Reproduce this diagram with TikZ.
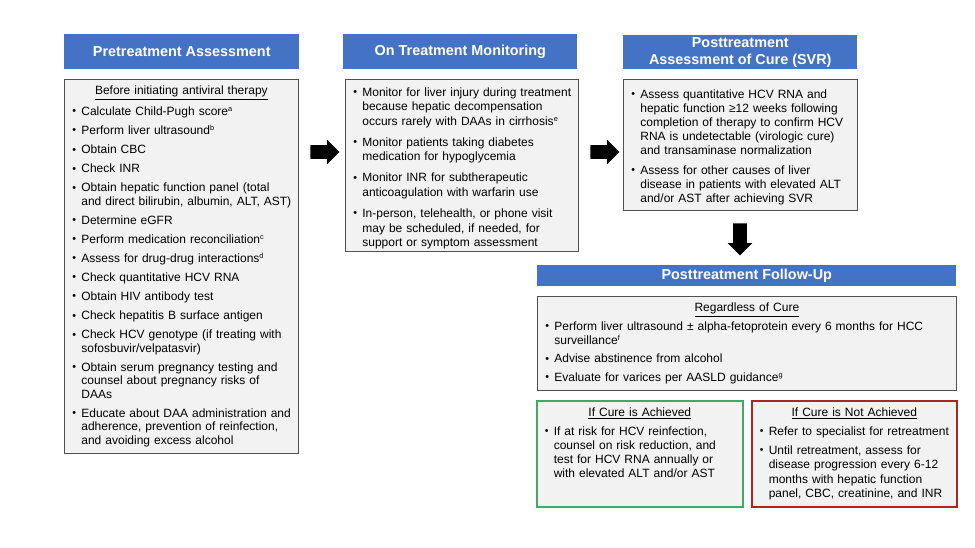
\documentclass[tikz,border=0pt]{standalone}
\usepackage{fontspec}
\setmainfont{Liberation Sans}
\usetikzlibrary{shapes.arrows}
\tikzset{head/.style = {fill=hblue, text=white, anchor=north west, inner sep=0,
                        align=center, font=\fontsize{10.8}{13}\selectfont\bfseries}}
\tikzset{panel/.style = {draw=bline, line width=0.6pt, fill=bfill, anchor=north west,
                         inner xsep=4.5pt, inner ysep=0, align=left,
                         execute at begin node={\def\bgap{#1}}}}
\tikzset{blockarr/.style = {single arrow, fill=black, inner sep=0, text height=9.75pt,
                            text depth=0pt, single arrow head extend=4.125pt}}
\definecolor{hblue}{RGB}{68,114,196}
\definecolor{bfill}{RGB}{242,242,242}
\definecolor{bline}{RGB}{80,80,80}
\definecolor{cgreen}{RGB}{64,170,100}
\definecolor{cred}{RGB}{178,36,36}
\newlength{\bhang}\setlength{\bhang}{8.25pt}
\def\bgap{4pt}
\newcommand{\bitem}[2][\bgap]{\par\vspace{#1}\hangindent=\bhang\hangafter=1
  \noindent\makebox[\bhang][l]{\hspace{1.5pt}\raisebox{0.5pt}{\fontsize{8}{8}\selectfont\textbullet}}#2\par}
\newcommand{\bhead}[1]{\centerline{\underline{#1}}}
\newcommand{\fnmark}[1]{\raisebox{2.8pt}{\fontsize{5.5}{6}\selectfont #1}}

\begin{document}
\begin{tikzpicture}[x=0.75pt, y=-0.75pt]
      \useasboundingbox (0, 0) rectangle (975, 548);

      % column headers
      \node [head, minimum width=176.25pt, minimum height=26.25pt] (preHead) at (64, 34) {Pretreatment Assessment};
      \node [head, minimum width=175.5pt, minimum height=26.25pt] (monHead) at (343, 34) {On Treatment Monitoring};
      \node [head, minimum width=175.5pt, minimum height=25.5pt] (svrHead) at (623, 35) {Posttreatment\\Assessment of Cure (SVR)};
      \node [head, minimum width=314.25pt, minimum height=15.75pt] (folHead) at (537, 265) {Posttreatment Follow-Up};

      % pretreatment
      \node [panel=4.2pt, text width=166.5pt, minimum height=280.5pt, font=\fontsize{9}{10.1}\selectfont] (pre) at (64, 79) {%
        \bhead{Before initiating antiviral therapy}
        \bitem{Calculate Child-Pugh score\fnmark{a}}
        \bitem{Perform liver ultrasound\fnmark{b}}
        \bitem{Obtain CBC}
        \bitem{Check INR}
        \bitem{Obtain hepatic function panel (total\newline and direct bilirubin, albumin, ALT, AST)}
        \bitem{Determine eGFR}
        \bitem{Perform medication reconciliation\fnmark{c}}
        \bitem{Assess for drug-drug interactions\fnmark{d}}
        \bitem{Check quantitative HCV RNA}
        \bitem{Obtain HIV antibody test}
        \bitem{Check hepatitis B surface antigen}
        \bitem{Check HCV genotype (if treating with\newline sofosbuvir/velpatasvir)}
        \bitem{Obtain serum pregnancy testing and\newline counsel about pregnancy risks of\newline DAAs}
        \bitem{Educate about DAA administration and\newline adherence, prevention of reinfection,\newline and avoiding excess alcohol}};

      % on treatment
      \node [panel=4.9pt, text width=165.75pt, minimum height=129pt, font=\fontsize{9}{10.9}\selectfont] (mon) at (345, 79) {%
        \bitem[0pt]{Monitor for liver injury during treatment\newline because hepatic decompensation\newline occurs rarely with DAAs in cirrhosis\fnmark{e}}
        \bitem{Monitor patients taking diabetes\newline medication for hypoglycemia}
        \bitem{Monitor INR for subtherapeutic\newline anticoagulation with warfarin use}
        \bitem{In-person, telehealth, or phone visit\newline may be scheduled, if needed, for\newline support or symptom assessment}};

      % assessment of cure
      \node [panel=4.5pt, text width=166.5pt, minimum height=98.25pt, font=\fontsize{9}{10.5}\selectfont] (svr) at (623, 79) {%
        \bitem[0pt]{Assess quantitative HCV RNA and\newline hepatic function ≥12 weeks following\newline completion of therapy to confirm HCV\newline RNA is undetectable (virologic cure)\newline and transaminase normalization}
        \bitem{Assess for other causes of liver\newline disease in patients with elevated ALT\newline and/or AST after achieving SVR}};

      % follow-up
      \node [panel=3.4pt, text width=305.25pt, minimum height=70.5pt, font=\fontsize{9}{10.5}\selectfont] (fol) at (537, 296) {%
        \bhead{Regardless of Cure}
        \bitem{Perform liver ultrasound ± alpha-fetoprotein every 6 months for HCC\newline surveillance\fnmark{f}}
        \bitem{Advise abstinence from alcohol}
        \bitem{Evaluate for varices per AASLD guidance\fnmark{g}}};

      \node [panel=3.4pt, draw=cgreen, line width=1.2pt, text width=145.5pt, minimum height=79.5pt, font=\fontsize{9}{10.5}\selectfont] (cure) at (536, 400) {%
        \bhead{If Cure is Achieved}
        \bitem{If at risk for HCV reinfection,\newline counsel on risk reduction, and\newline test for HCV RNA annually or\newline with elevated ALT and/or AST}
        \vskip 6.5pt\hbox{}};
      \node [panel=3.4pt, draw=cred, line width=1.2pt, text width=144.75pt, minimum height=79.5pt, font=\fontsize{9}{10.8}\selectfont] (nocure) at (751, 400) {%
        \bhead{If Cure is Not Achieved}
        \bitem{Refer to specialist for retreatment}
        \bitem{Until retreatment, assess for\newline disease progression every 6-12\newline months with hepatic function\newline panel, CBC, creatinine, and INR}};

      % block arrows
      \node [blockarr, minimum height=21.75pt] (arr1) at (321.5, 152) {};
      \node [blockarr, minimum height=21.75pt] (arr2) at (601.5, 152) {};
      \node [blockarr, minimum height=24pt, rotate=-90] (arr3) at (740, 236) {};
    \end{tikzpicture}
\end{document}
